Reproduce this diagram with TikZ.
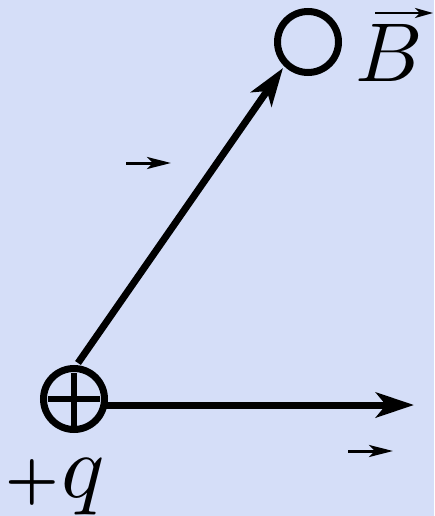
\documentclass[tikz,border=0pt]{standalone}
\usepackage{graphicx}
\usetikzlibrary{arrows.meta}
\definecolor{bg}{RGB}{213,222,248}
\begin{document}
\begin{tikzpicture}[x=1pt,y=-1pt,
  bigarrow/.style={line width=7pt,-{Stealth[length=38pt,width=25pt,inset=10pt]}},
  smallarrow/.style={line width=3pt,-{Stealth[length=24pt,width=12pt,inset=6pt]}},
  accarrow/.style={line width=2.5pt,-{Stealth[length=18pt,width=10pt,inset=5pt]}},
  ring/.style={circle,draw,line width=7pt,inner sep=0pt,minimum size=61pt},
  lbl/.style={anchor=base west,inner sep=0pt}]
\fill[bg] (0,0) rectangle (434,516);
\useasboundingbox (0,0) rectangle (434,516);
% charge
\node[ring] (charge) at (74,399) {};
\draw[line width=6pt] (48,399) -- (100,399);
\draw[line width=6pt] (74,373) -- (74,426);
% field point
\node[ring] (bpt) at (308,42) {};
% labels
\node[lbl] (blabel) at (355,82) {\scalebox{8.35}{$B$}};
\coordinate (ba) at (375,13);
\coordinate (bb) at (433,13);
\draw[accarrow] (ba) -- (bb);
\node[lbl] (qlabel) at (5,497) {\scalebox{6}{\textbf{+}}\hspace{3pt}\scalebox{9}{$q$}};
% connectors
\coordinate (dstart) at (78,363);
\coordinate (dtip) at (283,68);
\draw[bigarrow] (dstart) -- (dtip);
\coordinate (hstart) at (106,405);
\coordinate (htip) at (414,405);
\draw[bigarrow] (hstart) -- (htip);
% label arrows
\coordinate (ra) at (126,163);
\coordinate (rb) at (171,163);
\draw[smallarrow] (ra) -- (rb);
\coordinate (va) at (348,451);
\coordinate (vb) at (393,451);
\draw[smallarrow] (va) -- (vb);
\end{tikzpicture}
\end{document}
